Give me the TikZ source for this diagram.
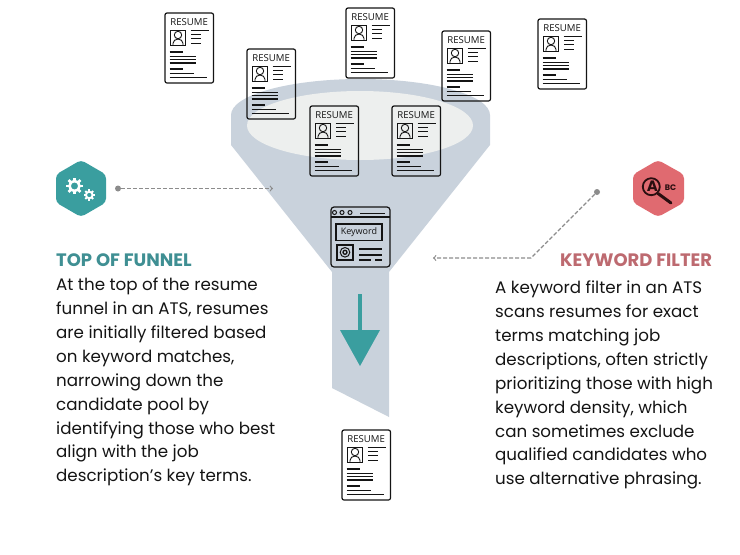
\documentclass[tikz,border=0pt]{standalone}
\usepackage{fontspec}
\setmainfont{Poppins}
\newfontfamily\cardfont{Open Sans}
\usepackage{xcolor}
\usetikzlibrary{calc, positioning}

\definecolor{funnelgray}{HTML}{C9D2DC}
\definecolor{rimwhite}{HTML}{EDEFEE}
\definecolor{tealmark}{HTML}{3A9E9F}
\definecolor{tealhead}{HTML}{3F8F93}
\definecolor{redmark}{HTML}{E06A70}
\definecolor{redhead}{HTML}{BD6A70}
\definecolor{inkline}{HTML}{141414}
\definecolor{flowgray}{HTML}{8C8C8C}
\definecolor{lensdark}{HTML}{2A0E10}

\tikzset{
    bodytext/.style={anchor=north west, inner sep=0pt, align=left, text=inkline,
        font=\fontsize{16.7}{23.85}\selectfont},
    headtext/.style={anchor=west, inner sep=0pt, font=\fontsize{18}{20}\selectfont\bfseries},
    flowline/.style={->, >=to, flowgray, dash pattern=on 4pt off 2pt, line width=1.2pt},
    dotmark/.style={circle, fill=flowgray, inner sep=0pt, minimum size=6pt},
    % feuille de CV, origine au coin haut gauche
    resumecard/.pic={
        \draw[inkline, line width=1.2pt, rounded corners=2pt] (0,0) rectangle (48.5,70);
        \node[inner sep=0pt, inkline, font=\cardfont\fontsize{9.6}{10}\selectfont] (-title) at (24.2,9.2) {RESUME};
        \draw[inkline, line width=0.9pt] (5.6,17) rectangle (20.4,32.7);
        \draw[inkline, line width=0.9pt] (13,22) circle (3.7);
        \draw[inkline, line width=0.9pt] (8,32.7) -- (8,30.5) arc[start angle=180, end angle=360, x radius=5, y radius=4.5] -- (18,32.7);
        \draw[inkline, line width=1.5pt] (25.7,17.7) -- (43.7,17.7);
        \foreach \y in {21.5, 25.5, 30} {
            \draw[inkline, line width=1pt] (26,\y) -- (36,\y);
        }
        \foreach \y in {38.7, 55.7} {
            \draw[inkline, line width=1.8pt] (4.7,\y) -- (18,\y);
        }
        \foreach \y in {43.4, 46.7, 50} {
            \draw[inkline, line width=1.1pt] (4.7,\y) -- (31,\y);
        }
        \draw[inkline, line width=1pt] (4.7,60.7) -- (28.7,60.7);
        \draw[inkline, line width=1pt] (4.7,64) -- (42,64);
    }
}

\begin{document}
\begin{tikzpicture}[x=1pt, y=-1pt]
    \useasboundingbox (0,0) rectangle (740,555);

    % 1. L'entonnoir
    \fill[funnelgray] (231,115) arc[start angle=180, end angle=360, x radius=129.5, y radius=36]
        -- (490,145) -- (389,272) -- (389,417) -- (332,388) -- (332,272) -- (231,145) -- cycle;
    \fill[rimwhite] (360,125.5) ellipse[x radius=113, y radius=34.5];

    % 2. Les CV
    \foreach \cx/\cy/\cname in {165/13/one, 247/49/two, 346/8/three, 442/31/four, 538/19/five, 310/106/six, 392/106/seven, 342/430/out} {
        \pic (card\cname) at (\cx,\cy) {resumecard};
    }

    % 3. Fenetre Keyword
    \draw[inkline, line width=1.2pt, rounded corners=3pt] (331,207) rectangle (390,267);
    \draw[inkline, line width=1.1pt] (331,217) -- (390,217);
    \foreach \x in {334.5, 342, 350} {
        \draw[inkline, line width=1pt] (\x,212.5) circle (2);
    }
    \draw[inkline, line width=1pt] (360,213) -- (385,213);
    \draw[inkline, line width=1.1pt] (336,224) rectangle (382,240.5);
    \node[inner sep=0pt, inkline, font=\cardfont\fontsize{9}{10}\selectfont] (keyword) at (359,232.3) {Keyword};
    \draw[inkline, line width=1.1pt] (337,245) rectangle (353,260);
    \draw[inkline, line width=1pt] (345,252.3) circle (4.8);
    \draw[inkline, line width=1.3pt] (345,252.3) circle (2);
    \draw[inkline, line width=1.1pt] (359,249) -- (382,249);
    \draw[inkline, line width=1.1pt] (359,255) -- (382,255);
    \draw[inkline, line width=1.1pt] (359,260) -- (371,260) (375,260) -- (382,260);

    % 4. Fleche vers le bas
    \draw[tealmark, line width=3.5pt] (360,294) -- (360,332);
    \fill[tealmark] (340,330) -- (380,330) -- (360,366) -- cycle;

    % 5. Pastille engrenages
    \fill[tealmark, rounded corners=4pt] (81,160) -- (106,174.5) -- (106,202.5) -- (81,217) -- (56,202.5) -- (56,174.5) -- cycle;
    \foreach \gx/\gy/\gr/\gw in {74.5/186/5/2.6, 89.3/195/3.3/1.9} {
        \draw[white, line width=\gw pt] (\gx,\gy) circle (\gr);
        \foreach \a in {0,45,...,315} {
            \draw[white, line width=\gw pt, shift={(\gx,\gy)}] (\a:\gr) -- (\a:{\gr*1.68});
        }
    }

    % 6. Pastille loupe
    \fill[redmark, rounded corners=4pt] (658,160) -- (684,174.5) -- (684,202.5) -- (658,217) -- (633,202.5) -- (633,174.5) -- cycle;
    \draw[lensdark, line width=1.8pt] (651.3,186.7) circle (8.5);
    \draw[lensdark, line width=3pt, line cap=round] (658,193.5) -- (671,203);
    \node[inner sep=0pt, lensdark, font=\fontsize{15}{15}\selectfont\bfseries] (letterA) at (652.5,186) {A};
    \node[inner sep=0pt, lensdark, font=\fontsize{8}{8}\selectfont\bfseries] (letterBC) at (670.5,187.3) {BC};

    % 7. Les traits pointilles
    \node[dotmark] (gearstart) at (118,188.5) {};
    \coordinate (gearend) at (273,188.5);
    \draw[flowline] (gearstart) -- (gearend);
    \node[dotmark] (abcstart) at (597,192) {};
    \coordinate (abcbend) at (531,258);
    \coordinate (abcend) at (433,258);
    \draw[flowline] (abcstart) -- (abcbend) -- (abcend);

    % 8. Les textes
    \node[headtext, text=tealhead] (topfunnel) at (56,260) {TOP OF FUNNEL};
    \node[bodytext] (topbody) at (56,278) {At the top of the resume\\funnel in an ATS, resumes\\are initially filtered based\\on keyword matches,\\narrowing down the\\candidate pool by\\identifying those who best\\align with the job\\description’s key terms.};
    \node[headtext, text=redhead] (keyfilter) at (560,260) {KEYWORD FILTER};
    \node[bodytext] (keybody) at (495,281) {A keyword filter in an ATS\\scans resumes for exact\\terms matching job\\descriptions, often strictly\\prioritizing those with high\\keyword density, which\\can sometimes exclude\\qualified candidates who\\use alternative phrasing.};
\end{tikzpicture}
\end{document}
